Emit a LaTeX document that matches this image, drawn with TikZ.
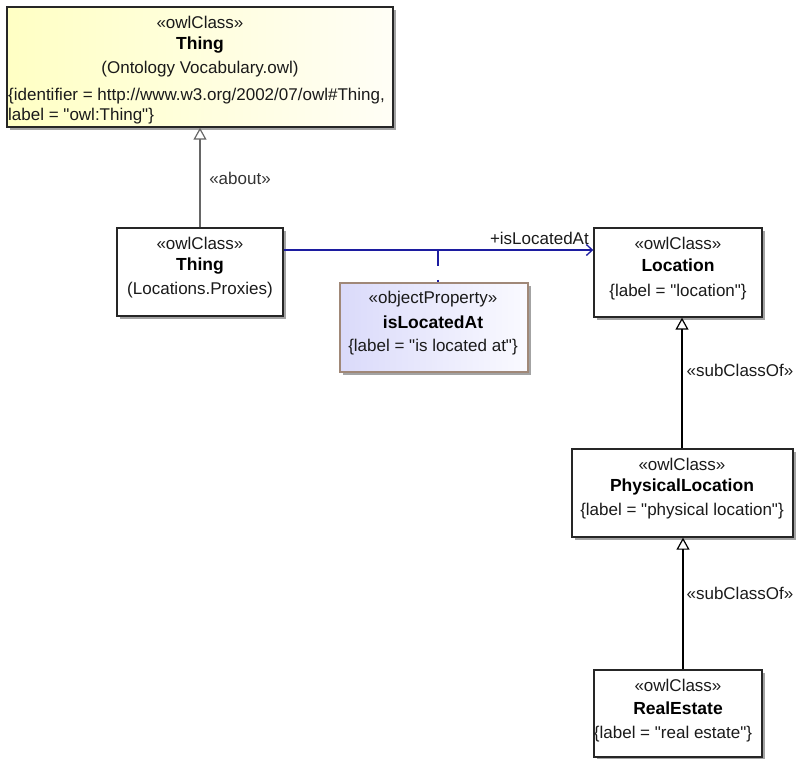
\documentclass[tikz,border=0pt]{standalone}
\usepackage{fontspec}
\setmainfont{Liberation Sans}[Ligatures=TeXOff]
\usetikzlibrary{arrows.meta,shadows,calc}
\definecolor{txt}{HTML}{1A1A1A}
\definecolor{assoc}{HTML}{1C1CA0}
\definecolor{opborder}{HTML}{A08878}
\tikzset{
  cls/.style={draw=black!85, line width=1.4pt, fill=white, inner sep=0pt,
    drop shadow={shadow xshift=3pt, shadow yshift=-3pt, fill=black!45, opacity=0.8}},
  st/.style={font=\fontsize{17}{20}\selectfont, text=txt, inner sep=0pt},
  nm/.style={font=\fontsize{17.5}{20}\selectfont\bfseries, text=black, inner sep=0pt},
  gen/.style={line width=1.2pt, -{Triangle[open,width=13pt,length=12pt,line width=1.2pt]}},
  lbl/.style={font=\fontsize{17}{20}\selectfont, text=txt, inner sep=0pt}
}
\begin{document}
\begin{tikzpicture}[x=1pt,y=-1pt]
\useasboundingbox (0,0) rectangle (796,759);
% boxes
\node[cls, left color={rgb,255:red,255;green,255;blue,196}, right color={rgb,255:red,255;green,254;blue,246},
  minimum width=386pt, minimum height=120pt] (T1) at (200,67) {};
\node[cls, minimum width=166pt, minimum height=88pt] (T2) at (200,272) {};
\node[cls, draw=opborder, left color={rgb,255:red,218;green,218;blue,250}, right color={rgb,255:red,250;green,250;blue,255},
  minimum width=188pt, minimum height=89pt] (OP) at (434,327.5) {};
\node[cls, minimum width=168pt, minimum height=89pt] (LOC) at (678,272.5) {};
\node[cls, minimum width=221pt, minimum height=88pt] (PL) at (682.5,493) {};
\node[cls, minimum width=168pt, minimum height=87pt] (RE) at (678,713.5) {};
% texts T1
\node[st] (t1a) at (200,22) {«owlClass»};
\node[nm] (t1b) at (200,45) {Thing};
\node[st] (t1c) at (200,69) {(Ontology Vocabulary.owl)};
\node[st, anchor=west] (t1d) at (8,96) {\{identifier = http://www.w3.org/2002/07/owl\#Thing,};
\node[st, anchor=west] (t1e) at (8,116) {label = "owl:Thing"\}};
% T2
\node[st] (t2a) at (200,243) {«owlClass»};
\node[nm] (t2b) at (200,266) {Thing};
\node[st] (t2c) at (200,290) {(Locations.Proxies)};
% OP
\node[st] (opa) at (433,299) {«objectProperty»};
\node[nm] (opb) at (433,322) {isLocatedAt};
\node[st] (opc) at (433,347) {\{label = "is located at"\}};
% LOC
\node[st] (la) at (678,243) {«owlClass»};
\node[nm] (lb) at (678,265.5) {Location};
\node[st] (lc) at (678,292) {\{label = "location"\}};
% PL
\node[st] (pa) at (682,464) {«owlClass»};
\node[nm] (pb) at (682,487) {PhysicalLocation};
\node[st] (pc) at (682,511) {\{label = "physical location"\}};
% RE
\node[st] (ra) at (678,685) {«owlClass»};
\node[nm] (rb) at (678,708) {RealEstate};
\node[st] (rc) at (673,734) {\{label = "real estate"\}};
% connectors
\draw[gen, draw=black!60] (T2.north) -- (T1.south);
\node[lbl, text=black!80] (ab) at (240,178) {«about»};
\draw[gen] (PL.north -| 682,0) -- (LOC.south -| 682,0);
\node[lbl] (s1) at (740,370) {«subClassOf»};
\draw[gen] (RE.north -| 683,0) -- (PL.south -| 683,0);
\node[lbl] (s2) at (740,593) {«subClassOf»};
\coordinate (as) at ([yshift=22pt]T2.east);
\draw[assoc, line width=1.3pt, -{Straight Barb[length=6pt,width=11pt,line width=1.3pt]}] (as) -- (LOC.west |- as);
\node[lbl, anchor=south east] (al) at (589,245) {+isLocatedAt};
\coordinate (j) at (438,250);
\draw[assoc, line width=1.5pt, dash pattern=on 16pt off 14pt] (j) -- (OP.north -| j);
\end{tikzpicture}
\end{document}
